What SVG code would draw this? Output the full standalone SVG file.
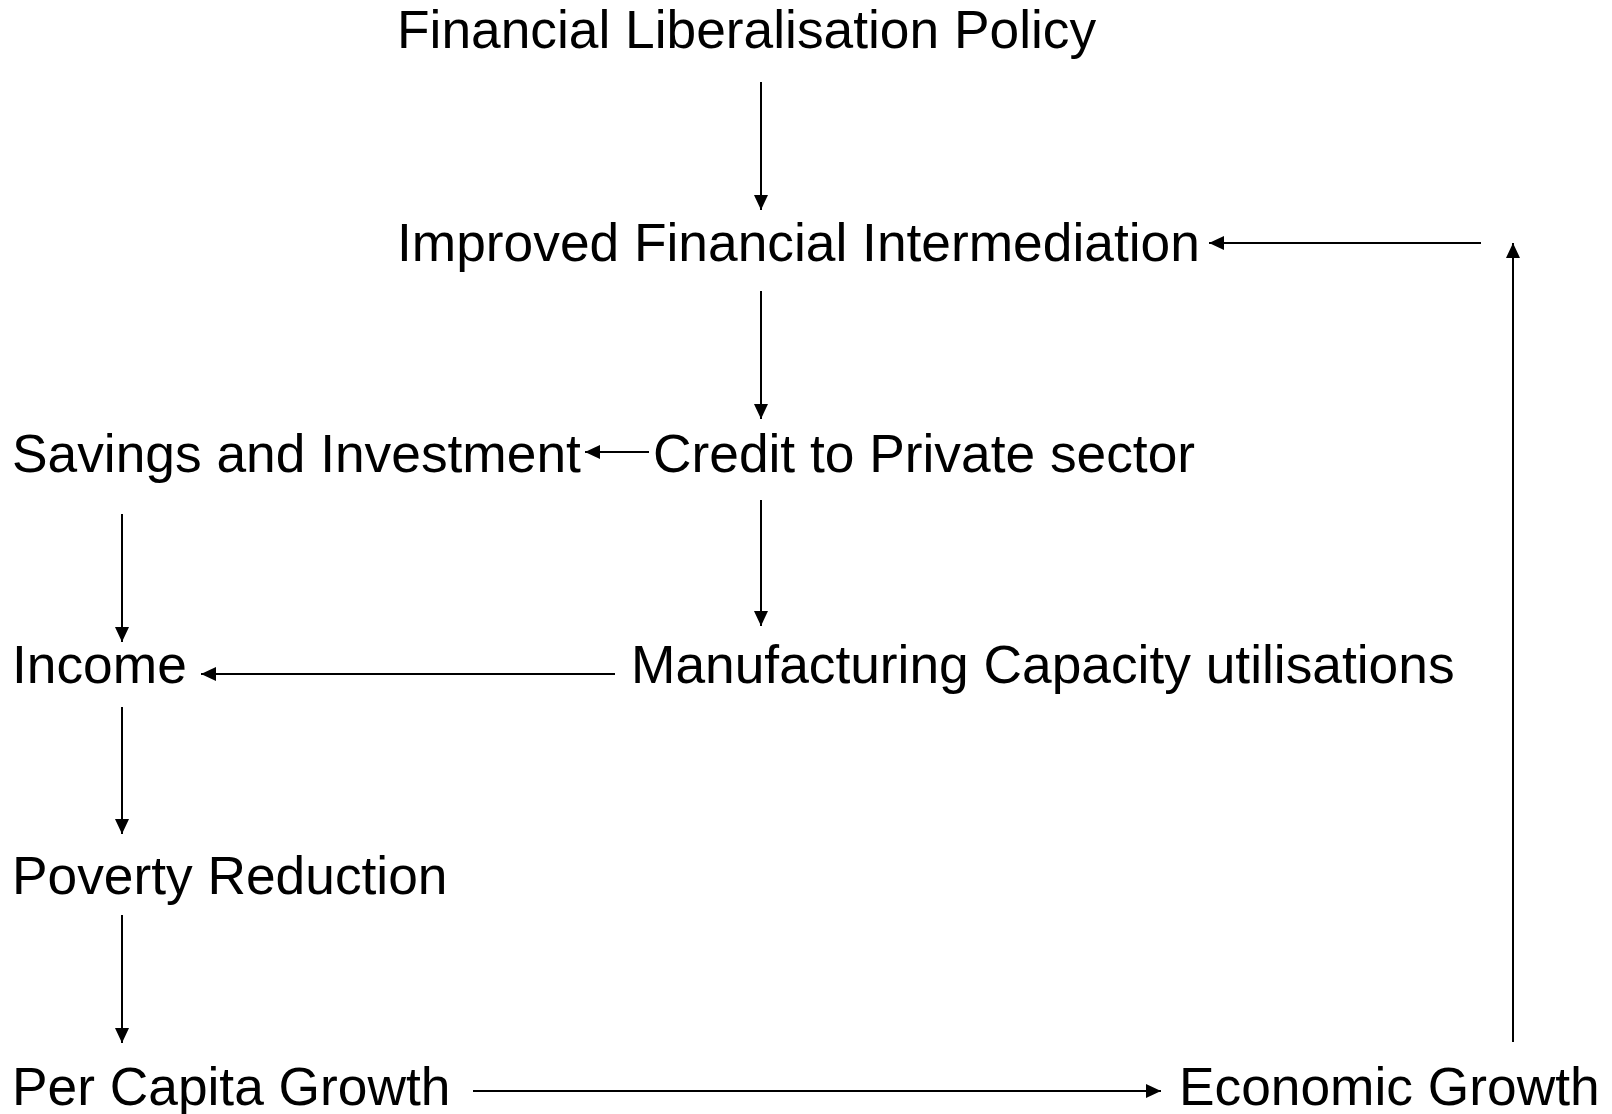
<svg xmlns="http://www.w3.org/2000/svg" width="1612" height="1114" viewBox="0 0 1612 1114">
<style>
.t{font-family:"Liberation Sans",Arial,sans-serif;font-size:53.3px;fill:#000}
.c{stroke:#000;stroke-width:2;fill:none;marker-end:url(#ah)}
</style>
<defs>
<marker id="ah" markerUnits="userSpaceOnUse" markerWidth="16" markerHeight="16" viewBox="0 0 16 16" refX="15" refY="8" orient="auto">
<path d="M0,1 L15,8 L0,15 Z" fill="#000"/>
</marker>
</defs>
<rect width="1612" height="1114" fill="#fff"/>
<g id="connectors">
<line class="c" x1="761" y1="82" x2="761" y2="210"/>
<line class="c" x1="761" y1="291" x2="761" y2="419"/>
<line class="c" x1="761" y1="500" x2="761" y2="626"/>
<line class="c" x1="649" y1="452" x2="585" y2="452"/>
<line class="c" x1="122" y1="514" x2="122" y2="642"/>
<line class="c" x1="615" y1="674" x2="201" y2="674"/>
<line class="c" x1="122" y1="707" x2="122" y2="834"/>
<line class="c" x1="122" y1="915" x2="122" y2="1043"/>
<line class="c" x1="473" y1="1091" x2="1161" y2="1091"/>
<line class="c" x1="1513" y1="1042" x2="1513" y2="243"/>
<line class="c" x1="1481" y1="243" x2="1209" y2="243"/>
</g>
<g id="n1"><text class="t" x="397" y="48">Financial Liberalisation Policy</text></g>
<g id="n2"><text class="t" x="397" y="261">Improved Financial Intermediation</text></g>
<g id="n3"><text class="t" x="12" y="472">Savings and Investment</text></g>
<g id="n4"><text class="t" x="653" y="472">Credit to Private sector</text></g>
<g id="n5"><text class="t" x="12" y="683">Income</text></g>
<g id="n6"><text class="t" x="631" y="683">Manufacturing Capacity utilisations</text></g>
<g id="n7"><text class="t" x="12" y="894">Poverty Reduction</text></g>
<g id="n8"><text class="t" x="12" y="1105">Per Capita Growth</text></g>
<g id="n9"><text class="t" x="1179" y="1105">Economic Growth</text></g>
</svg>
